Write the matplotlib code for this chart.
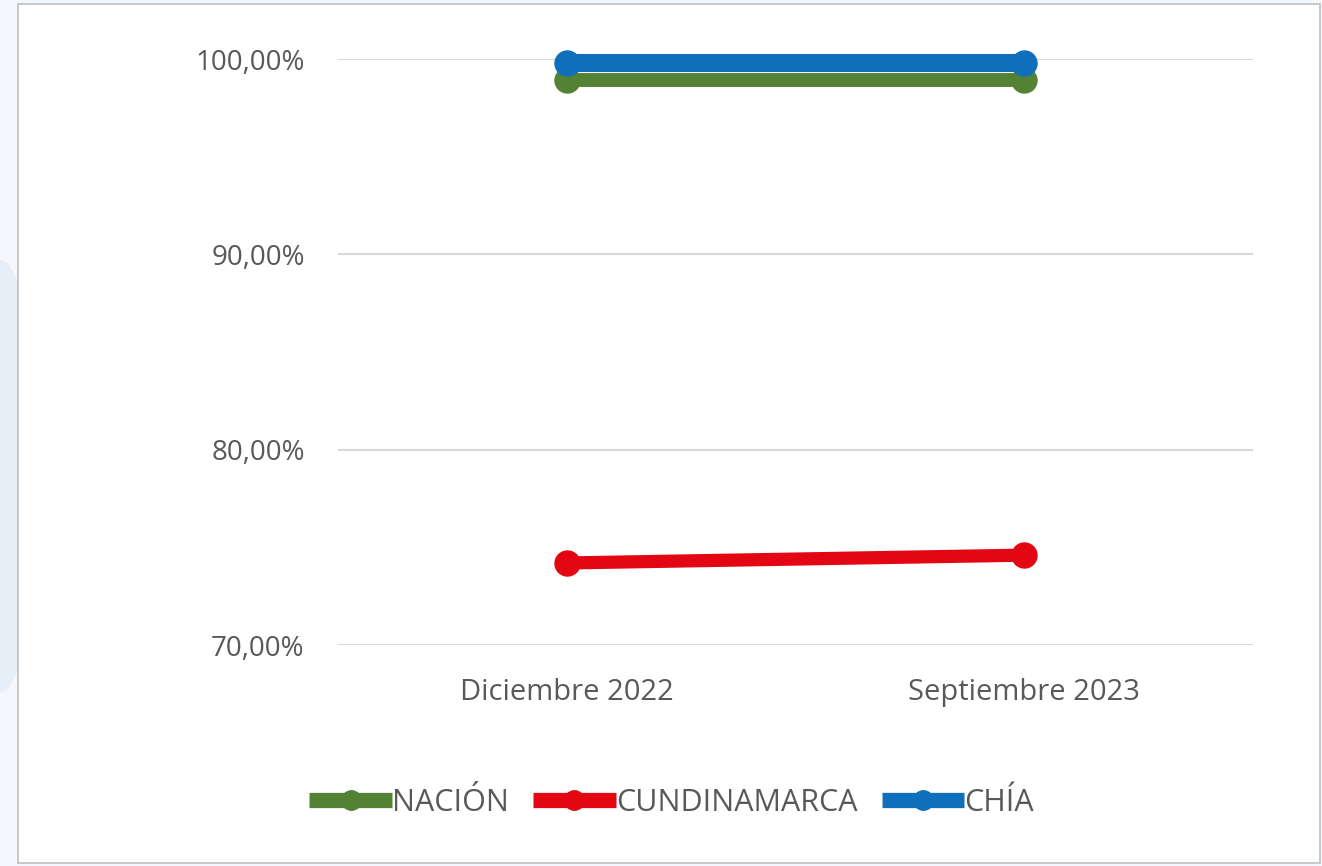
import matplotlib.pyplot as plt
from matplotlib.patches import Rectangle, Ellipse
from matplotlib.ticker import FuncFormatter

plt.rcParams['font.family'] = ['Open Sans', 'DejaVu Sans']

# datos
periodos = ['Diciembre 2022', 'Septiembre 2023']
nacion = [98.95, 98.95]
cundinamarca = [74.2, 74.6]
chia = [99.8, 99.8]

series = [
    ('NACIÓN', nacion, '#548235', 10),
    ('CUNDINAMARCA', cundinamarca, '#e30613', 9.5),
    ('CHÍA', chia, '#0f6fba', 13),
]

fig = plt.figure(figsize=(13.22, 8.66), dpi=100)
fig.patch.set_facecolor('#f4f7fb')

# fondo marca de agua (tenue) y recuadro blanco del grafico
fig.patches.append(Ellipse((0.0, 0.45), 0.06, 0.5, transform=fig.transFigure,
                           facecolor='#e6eef7', edgecolor='none', zorder=-2))
fig.patches.append(Rectangle((18/1322, 1-863/866), 1302/1322, 859/866,
                             transform=fig.transFigure, facecolor='white',
                             edgecolor='#bfbfbf', linewidth=1.2, zorder=-1))

ax = fig.add_axes([338/1322, 1-645/866, 915/1322, 586/866])
ax.set_facecolor('none')

x = list(range(len(periodos)))
for nombre, vals, color, lw in series:
    ax.plot(x, vals, color=color, linewidth=lw, marker='o', markersize=18,
            solid_capstyle='butt', label=nombre, zorder=3, clip_on=False)

ax.set_xlim(-0.5, 1.5)
ax.set_ylim(70, 100)
ax.set_yticks([70, 80, 90, 100])
ax.yaxis.set_major_formatter(FuncFormatter(lambda v, p: f'{v:.2f}%'.replace('.', ',')))
ax.set_xticks(x)
ax.set_xticklabels(periodos)

ax.grid(axis='y', color='#d9d9d9', linewidth=1.5, zorder=0)
for s in ax.spines.values():
    s.set_visible(False)
ax.tick_params(axis='both', length=0, colors='#595959')
ax.tick_params(axis='y', pad=24, labelsize=20)
ax.tick_params(axis='x', pad=24, labelsize=21)
ax.set_axisbelow(True)

leg = fig.legend(loc='center', bbox_to_anchor=(0.508, 1-803/866), ncol=3,
                 frameon=False, fontsize=22, handlelength=2.7,
                 handletextpad=0.0, columnspacing=0.8, labelcolor='#595959')
for h in leg.legend_handles:
    h.set_linewidth(11)
    h.set_markersize(14)

fig.savefig('out.png', dpi=100, facecolor=fig.get_facecolor())
